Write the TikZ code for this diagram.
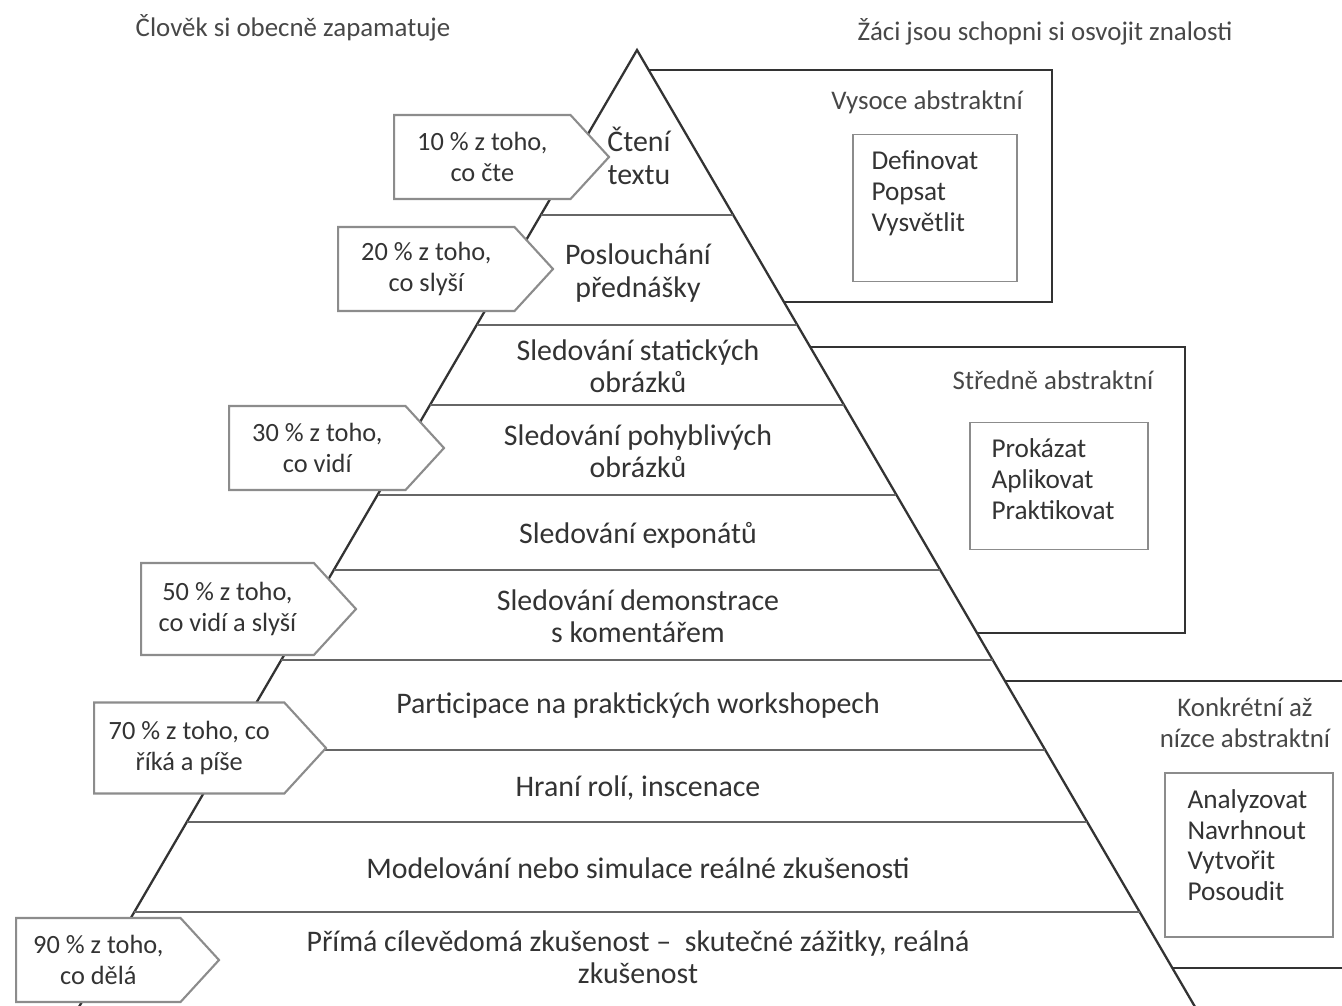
\documentclass[tikz,border=0pt]{standalone}
\usepackage{fontspec}
\setmainfont{Carlito}
\usetikzlibrary{positioning,shapes.symbols}
\definecolor{ink}{HTML}{333333}
\definecolor{edge}{HTML}{8C8C8C}
\tikzset{
x=0.02cm, y=-0.02cm,
pyr/.style={draw=ink,line width=1.3pt,fill=white},
band/.style={draw=ink!75,line width=1.5pt},
frame/.style={draw=ink,line width=1.6pt},
head/.style={text=ink!90,font=\fontsize{15.3}{17.5}\selectfont,inner sep=0pt},
layer/.style={text=ink,font=\fontsize{17}{18.5}\selectfont,align=center},
callout/.style={shape=signal,signal to=east,signal pointer angle=95,
  draw=edge,line width=1.2pt,fill=white,anchor=west,text=ink,
  font=\fontsize{15}{17.5}\selectfont,align=center,
  minimum width=4.3cm,minimum height=1.68cm},
verbbox/.style={draw=edge,line width=1pt},
verbs/.style={text=ink,font=\fontsize{15.5}{17.5}\selectfont,align=left,
  anchor=north west,inner sep=0pt}
}
\begin{document}
\begin{tikzpicture}
\useasboundingbox (0,0) rectangle (1342,1005);
\clip (0,0) rectangle (1342,1005);

% titles
\node[head] (remember) at (293,28) {Člověk si obecně zapamatuje};
\node[head] (learn)    at (1045,32) {Žáci jsou schopni si osvojit znalosti};

% frames behind the pyramid
\draw[frame] (640,70)  rectangle (1052,302);
\draw[frame] (700,347) rectangle (1185,633);
\draw[frame] (900,681) rectangle (1400,968);

% pyramid
\coordinate (apex) at (637,50);
\coordinate (bl)   at (48,1060);
\coordinate (br)   at (1226,1060);
\draw[pyr] (apex) -- (bl) -- (br) -- cycle;
\foreach \y in {215,325,405,495,570,660,750,822,912}
  \draw[band] ({637-0.583*(\y-50)},\y) -- ({637+0.583*(\y-50)},\y);

\node[layer] (read)   at (639,156) {Čtení\\textu};
\node[layer] (listen) at (638,273) {Poslouchání\\přednášky};
\node[layer] (still)  at (638,366) {Sledování statických\\obrázků};
\node[layer] (moving) at (638,451) {Sledování pohyblivých\\obrázků};
\node[layer] (expo)   at (638,535) {Sledování exponátů};
\node[layer] (demo)   at (638,616) {Sledování demonstrace\\s komentářem};
\node[layer] (work)   at (638,706) {Participace na praktických workshopech};
\node[layer] (role)   at (638,788) {Hraní rolí, inscenace};
\node[layer] (model)  at (638,868) {Modelování nebo simulace reálné zkušenosti};
\node[layer] (direct) at (638,957) {Přímá cílevědomá zkušenost –\ \ skutečné zážitky, reálná\\zkušenost};

% how much is remembered
\node[callout] (p10) at (393,157) {10 \% z toho,\\co čte};
\node[callout] (p20) at (337,269) {20 \% z toho,\\co slyší};
\node[callout] (p30) at (228,448) {30 \% z toho,\\co vidí};
\node[callout,minimum height=1.84cm] (p50) at (140,609) {50 \% z toho,\\co vidí a slyší};
\node[callout,minimum height=1.82cm,minimum width=4.64cm] (p70) at (93,748) {70 \% z toho, co\\říká a píše};
\node[callout,minimum width=4.06cm] (p90) at (15,960) {90 \% z toho,\\co dělá};

% what pupils can do
\node[head] (high) at (927,102) {Vysoce abstraktní};
\node[verbbox,minimum width=3.28cm,minimum height=2.94cm] (highbox) at (935,208) {};
\node[verbs] (highlist) at ([shift={(19,17)}]highbox.north west) {Definovat\\Popsat\\Vysvětlit};

\node[head] (mid) at (1053,380) {Středně abstraktní};
\node[verbbox,minimum width=3.56cm,minimum height=2.54cm] (midbox) at (1059,486) {};
\node[verbs] (midlist) at ([shift={(22,17)}]midbox.north west) {Prokázat\\Aplikovat\\Praktikovat};

\node[head,align=center] (low) at (1245,723) {Konkrétní až\\nízce abstraktní};
\node[verbbox,minimum width=3.36cm,minimum height=3.28cm] (lowbox) at (1249,855) {};
\node[verbs] (lowlist) at ([shift={(23,17)}]lowbox.north west) {Analyzovat\\Navrhnout\\Vytvořit\\Posoudit};
\end{tikzpicture}
\end{document}
